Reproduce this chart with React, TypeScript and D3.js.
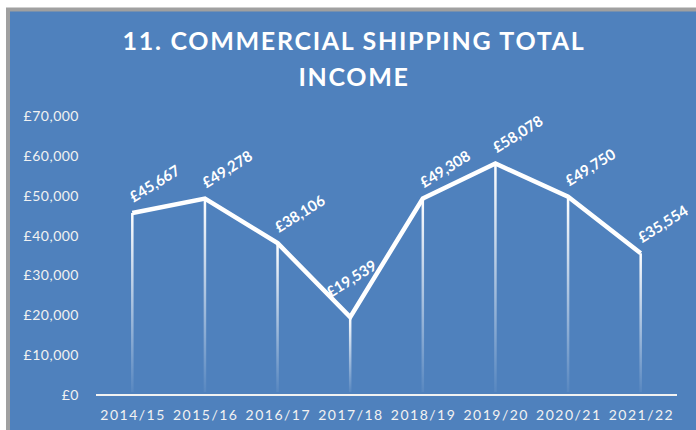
import React from "react";
import * as d3 from "d3";

const categories = ["2014/15", "2015/16", "2016/17", "2017/18", "2018/19", "2019/20", "2020/21", "2021/22"];
const income = [45667, 49278, 38106, 19539, 49308, 58078, 49750, 35554];
const yTicks = [0, 10000, 20000, 30000, 40000, 50000, 60000, 70000];
const titleLines = ["11. COMMERCIAL SHIPPING TOTAL", "INCOME"];

const W = 696;
const H = 430;
const BG = "#4F81BD";
const FONT = "Lato, 'Open Sans', sans-serif";

const fmt = (v: number) => "£" + d3.format(",")(v);

export default function App() {
  const x = d3.scaleBand<string>().domain(categories).range([96, 677]);
  const y = d3.scaleLinear().domain([0, 70000]).range([395, 116]);
  const px = (c: string) => (x(c) ?? 0) + x.bandwidth() / 2;

  const pts: [number, number][] = income.map((v, i) => [px(categories[i]), y(v)]);
  const path = d3.line()(pts) ?? "";

  // a label sitting in a dip goes straight up so it stays clear of the line
  const isDip = (i: number) =>
    i > 0 && i < income.length - 1 && income[i - 1] > income[i] && income[i + 1] > income[i];

  return (
    <svg
      width={W}
      height={H}
      style={{ position: "absolute", left: 0, top: 0, display: "block" }}
    >
      <defs>
        <linearGradient id="drop" x1="0" y1="0" x2="0" y2="1">
          <stop offset="0" stopColor="#fff" stopOpacity={1} />
          <stop offset="1" stopColor="#fff" stopOpacity={0.05} />
        </linearGradient>
      </defs>
      <rect x={0} y={0} width={W} height={H} fill="#fff" />
      <rect x={8} y={9.5} width={W + 20} height={H + 20} fill={BG} stroke="#A0A0A0" strokeWidth={4} />

      {titleLines.map((t, i) => (
        <text
          key={t}
          x={354}
          y={50 + i * 36}
          textAnchor="middle"
          fill="#fff"
          fontFamily={FONT}
          fontWeight="bold"
          fontSize={25}
          letterSpacing={1.7}
        >
          {t}
        </text>
      ))}

      {yTicks.map((t) => (
        <text
          key={t}
          x={79}
          y={y(t) + 5}
          textAnchor="end"
          fill="#F2F2F2"
          fontFamily={FONT}
          fontSize={14}
          letterSpacing={0.5}
        >
          {fmt(t)}
        </text>
      ))}

      {categories.map((c) => (
        <text
          key={c}
          x={px(c) + 0.75}
          y={420}
          textAnchor="middle"
          fill="#F2F2F2"
          fontFamily={FONT}
          fontSize={14}
          letterSpacing={1.5}
        >
          {c}
        </text>
      ))}

      {pts.map(([cx, cy], i) => (
        <rect key={"d" + i} x={cx - 1.25} y={cy} width={2.5} height={y(0) - 3 - cy} fill="url(#drop)" />
      ))}

      <line x1={96} x2={677} y1={y(0)} y2={y(0)} stroke="#F2F2F2" strokeWidth={2} />

      <path d={path} fill="none" stroke="#fff" strokeWidth={4.5} strokeLinejoin="miter" />

      {pts.map(([cx, cy], i) => (
        <text
          key={"l" + i}
          transform={`translate(${cx + (isDip(i) ? 1 : 22)},${cy - (isDip(i) ? 39 : 30)}) rotate(-32)`}
          textAnchor="middle"
          dominantBaseline="central"
          fill="#fff"
          fontFamily={FONT}
          fontWeight="bold"
          fontSize={15}
        >
          {fmt(income[i])}
        </text>
      ))}
    </svg>
  );
}
